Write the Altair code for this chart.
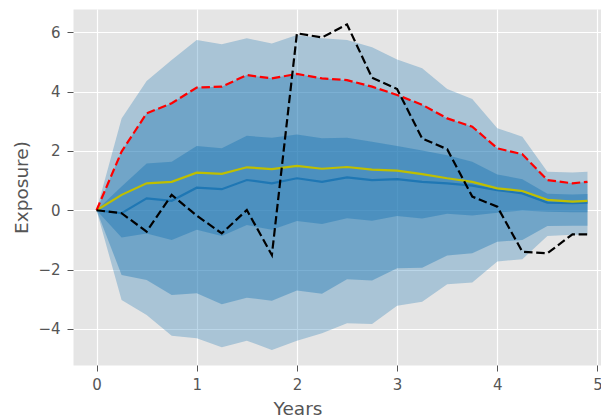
import altair as alt
import pandas as pd

# Simulation time grid (years)
t = [0, 0.25, 0.5, 0.75, 1.0, 1.25, 1.5, 1.75, 2.0, 2.25, 2.5,
     2.75, 3.0, 3.25, 3.5, 3.75, 4.0, 4.25, 4.5, 4.75, 4.9]

# Outer percentile band
outer_hi = [0, 3.10, 4.36, 5.07, 5.74, 5.60, 5.80, 5.63, 5.91, 5.80, 5.74,
            5.50, 5.09, 4.79, 4.09, 3.75, 2.77, 2.48, 1.30, 1.27, 1.30]
outer_lo = [0, -3.03, -3.53, -4.23, -4.32, -4.62, -4.40, -4.71, -4.40, -4.15, -3.81,
            -3.84, -3.22, -3.09, -2.50, -2.44, -1.73, -1.65, -0.87, -0.83, -0.83]

# Middle band; its upper edge is the PFE curve
pfe = [0, 1.98, 3.27, 3.61, 4.14, 4.17, 4.56, 4.45, 4.60, 4.45, 4.39,
       4.17, 3.89, 3.56, 3.10, 2.82, 2.09, 1.89, 1.02, 0.91, 0.96]
mid_lo = [0, -2.18, -2.35, -2.86, -2.80, -3.17, -2.95, -3.05, -2.71, -2.82, -2.33,
          -2.37, -1.96, -1.94, -1.53, -1.45, -1.06, -1.00, -0.53, -0.52, -0.52]

# Inner band
inner_hi = [0, 0.80, 1.58, 1.64, 2.17, 2.09, 2.51, 2.45, 2.56, 2.43, 2.45,
            2.31, 2.17, 2.02, 1.86, 1.64, 1.21, 1.05, 0.56, 0.53, 0.55]
inner_lo = [0, -0.92, -0.78, -1.00, -0.66, -0.87, -0.50, -0.66, -0.36, -0.46, -0.27,
            -0.35, -0.19, -0.28, -0.12, -0.18, -0.08, -0.01, -0.05, -0.07, -0.07]

# Median and mean exposure
median = [0, -0.10, 0.40, 0.32, 0.76, 0.71, 1.02, 0.91, 1.08, 0.96, 1.11,
          1.02, 1.05, 0.96, 0.91, 0.83, 0.68, 0.57, 0.26, 0.24, 0.26]
mean = [0, 0.52, 0.91, 0.96, 1.27, 1.23, 1.45, 1.39, 1.50, 1.40, 1.46,
        1.37, 1.34, 1.22, 1.08, 0.96, 0.74, 0.65, 0.35, 0.29, 0.32]

# One simulated exposure path
path = [0, -0.10, -0.72, 0.52, -0.18, -0.78, 0.01, -1.51, 5.97, 5.83, 6.27,
        4.47, 4.09, 2.42, 2.06, 0.46, 0.12, -1.40, -1.45, -0.81, -0.81]

df = pd.DataFrame({
    "t": t, "outer_hi": outer_hi, "outer_lo": outer_lo,
    "pfe": pfe, "mid_lo": mid_lo, "inner_hi": inner_hi, "inner_lo": inner_lo,
    "median": median, "mean": mean, "path": path,
})

BLUE = "#1f77b4"

x = alt.X(
    "t:Q",
    scale=alt.Scale(domain=[-0.235, 5.035], nice=False, zero=False),
    axis=alt.Axis(
        values=[0, 1, 2, 3, 4, 5], format="d", labelPadding=6, labelFlush=False,
        title="Years", titleX=224.5, titleY=49, titleBaseline="alphabetic",
        titleAlign="center",
    ),
)
yscale = alt.Scale(domain=[-5.22, 6.79], nice=False, zero=False)
yaxis = alt.Axis(
    values=[-4, -2, 0, 2, 4, 6], format="d", labelPadding=7, labelFlush=False,
    title="Exposure)", titleAngle=270, titleX=-45.7, titleY=178,
    titleBaseline="alphabetic", titleAlign="center",
)

base = alt.Chart(df)


def band(lo, hi, opacity):
    return base.mark_area(color=BLUE, opacity=opacity).encode(
        x=x, y=alt.Y(f"{lo}:Q", scale=yscale, axis=yaxis), y2=alt.Y2(f"{hi}:Q")
    )


def line(col, color, dash=None):
    kw = dict(color=color, strokeWidth=2.2)
    if dash:
        kw["strokeDash"] = dash
    return base.mark_line(**kw).encode(
        x=x, y=alt.Y(f"{col}:Q", scale=yscale, axis=yaxis)
    )


chart = alt.layer(
    band("outer_lo", "outer_hi", 0.3),
    band("mid_lo", "pfe", 0.4),
    band("inner_lo", "inner_hi", 0.45),
    line("median", BLUE),
    line("mean", "#bfbf00"),
    line("pfe", "#ff0000", [8.5, 3.7]),
    line("path", "#000000", [8.5, 3.7]),
).properties(
    width=528, height=356,
    autosize=alt.AutoSizeParams(type="none"),
    padding={"left": 73, "top": 9, "right": 0, "bottom": 52},
).configure_view(
    fill="#E5E5E5", stroke="transparent"
).configure_axis(
    grid=True, gridColor="#ffffff", gridWidth=1.2, domain=False,
    tickColor="#555555", tickSize=6, tickWidth=1,
    labelColor="#555555", labelFont="DejaVu Sans", labelFontSize=15,
    titleColor="#555555", titleFont="DejaVu Sans", titleFontSize=18.5,
    titleFontWeight="normal",
)

chart.save("out.html", embed_options={"renderer": "svg", "actions": False})
